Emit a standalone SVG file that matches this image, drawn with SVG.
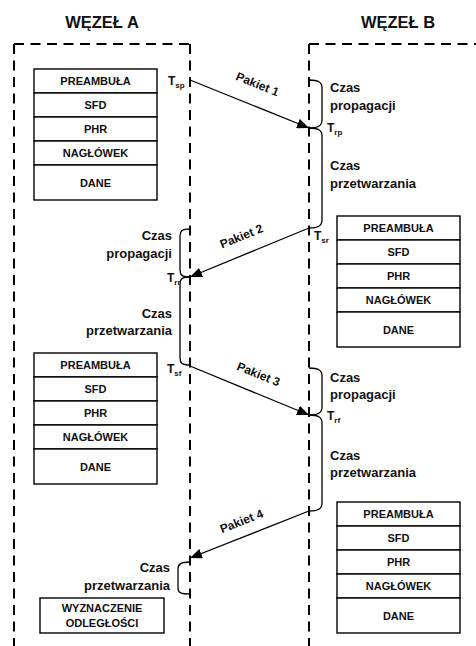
<svg xmlns="http://www.w3.org/2000/svg" width="476" height="646" viewBox="0 0 476 646">
<style>
text{font-family:"Liberation Sans",Arial,sans-serif;font-weight:bold;fill:#111}
.title{font-size:16.5px;text-anchor:middle}
.lbl{font-size:13px}
.pk{font-size:12px;text-anchor:middle}
.r{text-anchor:end}
.box{font-size:11px;text-anchor:middle}
.t{font-size:12px}
.sub{font-size:8px}
.dash{fill:none;stroke:#000;stroke-width:2;stroke-dasharray:10 6.5}
.cell{fill:#fff;stroke:#000;stroke-width:1.4}
.br{fill:none;stroke:#000;stroke-width:1.3}
.ar{fill:none;stroke:#000;stroke-width:1.3}
</style>
<defs>
<marker id="ah" viewBox="0 0 12 10" refX="12" refY="5" markerWidth="12" markerHeight="10" markerUnits="userSpaceOnUse" orient="auto">
<path d="M0,0 L12,5 L0,10 z" fill="#000"/>
</marker>
<g id="stack">
<rect class="cell" x="0" y="0" width="123" height="24"/>
<rect class="cell" x="0" y="24" width="123" height="24"/>
<rect class="cell" x="0" y="48" width="123" height="24"/>
<rect class="cell" x="0" y="72" width="123" height="24"/>
<rect class="cell" x="0" y="96" width="123" height="35"/>
<text class="box" x="61.5" y="16">PREAMBUŁA</text>
<text class="box" x="61.5" y="40">SFD</text>
<text class="box" x="61.5" y="64">PHR</text>
<text class="box" x="61.5" y="88">NAGŁÓWEK</text>
<text class="box" x="61.5" y="117.5">DANE</text>
</g>
</defs>
<rect width="476" height="646" fill="#fff"/>

<g id="nodeA">
<text class="title" x="102" y="28">WĘZEŁ A</text>
<path class="dash" d="M14,44 H190"/>
<path class="dash" d="M14,44 V646"/>
<path class="dash" d="M190,44 V646"/>
</g>
<g id="nodeB">
<text class="title" x="398" y="28">WĘZEŁ B</text>
<path class="dash" d="M309,44 H476"/>
<path class="dash" d="M309,44 V646"/>
</g>

<g id="frameA1"><use href="#stack" x="34" y="69"/></g>
<g id="frameB1"><use href="#stack" x="337" y="216"/></g>
<g id="frameA2"><use href="#stack" x="34" y="353"/></g>
<g id="frameB2"><use href="#stack" x="337" y="502"/></g>
<g id="distance">
<rect class="cell" x="40" y="598" width="124" height="35"/>
<text class="box" x="102" y="612">WYZNACZENIE</text>
<text class="box" x="102" y="627">ODLEGŁOŚCI</text>
</g>

<g id="connectors">
<line class="ar" x1="190" y1="80" x2="309" y2="128" marker-end="url(#ah)"/>
<line class="ar" x1="309" y1="228" x2="190" y2="277" marker-end="url(#ah)"/>
<line class="ar" x1="190" y1="366" x2="309" y2="415" marker-end="url(#ah)"/>
<line class="ar" x1="309" y1="511" x2="190" y2="558" marker-end="url(#ah)"/>
<text class="pk" transform="translate(256,88) rotate(22)">Pakiet 1</text>
<text class="pk" transform="translate(243,240) rotate(-22)">Pakiet 2</text>
<text class="pk" transform="translate(257,378) rotate(22)">Pakiet 3</text>
<text class="pk" transform="translate(243,525) rotate(-21.5)">Pakiet 4</text>
</g>

<g id="braces">
<path class="br" d="M309,80 C318,80 322,82 322,88 V120 C322,126 318,128 309,128"/>
<path class="br" d="M309,128 C318,128 322,130 322,136 V220 C322,226 318,228 309,228"/>
<path class="br" d="M190,229 C182,229 180,231 180,236 V270 C180,275 182,277 190,277"/>
<path class="br" d="M190,277 C182,277 180,279 180,284 V358 C180,363 182,365 190,365"/>
<path class="br" d="M309,368 C318,368 322,370 322,376 V407 C322,413 318,415 309,415"/>
<path class="br" d="M309,415 C318,415 322,417 322,423 V503 C322,509 318,511 309,511"/>
<path class="br" d="M190,562 C181,562 178,564 178,569 V588 C178,593 181,594 190,594"/>
</g>

<g id="labels">
<text class="t" x="168" y="85">T<tspan class="sub" dy="3">sp</tspan></text>
<text class="lbl" x="330" y="92">Czas</text>
<text class="lbl" x="330" y="110">propagacji</text>
<text class="t" x="327" y="132">T<tspan class="sub" dy="3">rp</tspan></text>
<text class="lbl" x="330" y="170">Czas</text>
<text class="lbl" x="330" y="188">przetwarzania</text>
<text class="t" x="314" y="240">T<tspan class="sub" dy="3">sr</tspan></text>

<text class="lbl r" x="172" y="240">Czas</text>
<text class="lbl r" x="172" y="258">propagacji</text>
<text class="t" x="167" y="282">T<tspan class="sub" dy="3">rr</tspan></text>
<text class="lbl r" x="172" y="318">Czas</text>
<text class="lbl r" x="172" y="335">przetwarzania</text>
<text class="t" x="167" y="373">T<tspan class="sub" dy="3">sf</tspan></text>

<text class="lbl" x="330" y="382">Czas</text>
<text class="lbl" x="330" y="399">propagacji</text>
<text class="t" x="327" y="420">T<tspan class="sub" dy="3">rf</tspan></text>
<text class="lbl" x="330" y="460">Czas</text>
<text class="lbl" x="330" y="477">przetwarzania</text>

<text class="lbl r" x="170" y="572">Czas</text>
<text class="lbl r" x="170" y="590">przetwarzania</text>
</g>
</svg>
